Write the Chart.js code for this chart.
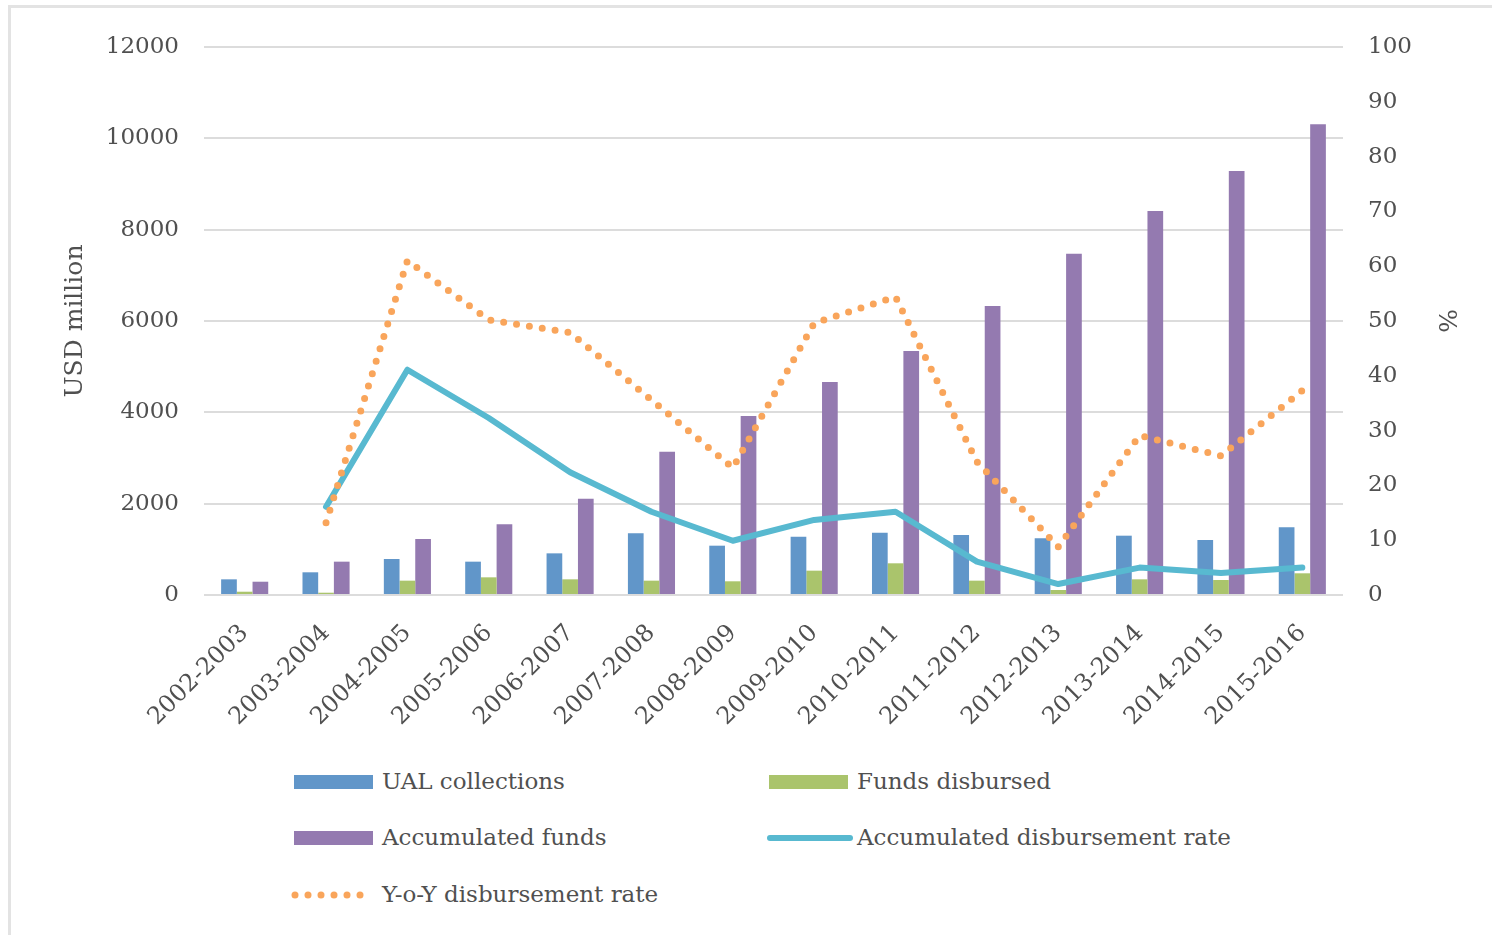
<!DOCTYPE html>
<html>
<head>
<meta charset="utf-8">
<title>UAL collections and disbursement</title>
<script src="https://cdn.jsdelivr.net/npm/chart.js@4.4.1/dist/chart.umd.min.js"></script>
<style>
  body {
    margin: 0;
    width: 1492px;
    height: 935px;
    background: #fff;
    overflow: hidden;
    position: relative;
    font-family: "DejaVu Serif", serif;
    color: #505050;
  }
  #frame {
    position: absolute;
    left: 8px;
    top: 5px;
    width: 1500px;
    height: 1000px;
    border-left: 3px solid #e3e3e3;
    border-top: 3px solid #e3e3e3;
  }
  #wrap {
    position: absolute;
    left: 0;
    top: 0;
    width: 1492px;
    height: 760px;
  }
  .legend-item {
    position: absolute;
    height: 30px;
    font-size: 23px;
    line-height: 30px;
    white-space: nowrap;
  }
  .legend-item .marker {
    position: absolute;
    top: 0;
  }
  .legend-item span {
    position: absolute;
    top: -1px;
  }
</style>
</head>
<body>
<div id="frame"></div>
<div id="wrap"><canvas id="chart"></canvas></div>
<div id="legend"></div>

<script>
// Fiscal years on the x axis
const categories = [
  '2002-2003', '2003-2004', '2004-2005', '2005-2006', '2006-2007',
  '2007-2008', '2008-2009', '2009-2010', '2010-2011', '2011-2012',
  '2012-2013', '2013-2014', '2014-2015', '2015-2016'
];

// USD million (left axis)
const ualCollections   = [343, 497, 788, 730, 912, 1350, 1080, 1277, 1365, 1314, 1241, 1299, 1204, 1482];
const fundsDisbursed   = [72, 50, 314, 387, 343, 314, 300, 533, 694, 314, 110, 343, 328, 475];
const accumulatedFunds = [291, 730, 1226, 1547, 2110, 3138, 3920, 4664, 5343, 6330, 7470, 8408, 9284, 10306];

// Percent (right axis); no rate for the first year
const accDisbursementRate = [null, 16.1, 41.1, 32.3, 22.4, 15.2, 9.9, 13.7, 15.2, 6.1, 2.0, 5.0, 4.0, 5.0];
const yoyDisbursementRate = [null, 13.2, 61.0, 50.2, 47.9, 35.6, 23.2, 49.6, 54.4, 24.3, 8.8, 29.1, 25.4, 37.3];

// Axis ranges
const usdMax = 12000;
const usdStep = 2000;
const pctMax = 100;
const pctStep = 10;

const COLORS = {
  ual: '#6196c9',
  disbursed: '#aac46c',
  accumulated: '#947ab0',
  accRate: '#58b9d0',
  yoyRate: '#f9a55b',
  text: '#505050',
  grid: '#dcdcdc'
};

const FONT = '"DejaVu Serif", serif';

const tickFont = { family: FONT, size: 23 };
const catFont = { family: FONT, size: 24 };
const titleFont = { family: FONT, size: 25 };

// plain integers, no thousands separator
const plainTick = v => String(v);

const chart = new Chart(document.getElementById('chart'), {
  type: 'bar',
  data: {
    labels: categories,
    datasets: [
      {
        type: 'line',
        label: 'Y-o-Y disbursement rate',
        data: yoyDisbursementRate,
        yAxisID: 'y2',
        borderColor: COLORS.yoyRate,
        borderWidth: 7,
        borderDash: [0, 13],
        borderCapStyle: 'round',
        pointRadius: 0,
        tension: 0,
        order: 0
      },
      {
        type: 'line',
        label: 'Accumulated disbursement rate',
        data: accDisbursementRate,
        yAxisID: 'y2',
        borderColor: COLORS.accRate,
        borderWidth: 6,
        borderJoinStyle: 'round',
        borderCapStyle: 'round',
        pointRadius: 0,
        tension: 0,
        order: 1
      },
      {
        label: 'UAL collections',
        data: ualCollections,
        backgroundColor: COLORS.ual,
        yAxisID: 'y',
        order: 2
      },
      {
        label: 'Funds disbursed',
        data: fundsDisbursed,
        backgroundColor: COLORS.disbursed,
        yAxisID: 'y',
        order: 2
      },
      {
        label: 'Accumulated funds',
        data: accumulatedFunds,
        backgroundColor: COLORS.accumulated,
        yAxisID: 'y',
        order: 2
      }
    ]
  },
  options: {
    responsive: true,
    maintainAspectRatio: false,
    animation: false,
    layout: { padding: { top: 47, left: 0, right: 0, bottom: 0 } },
    datasets: {
      bar: { categoryPercentage: 0.579, barPercentage: 1 }
    },
    plugins: {
      legend: { display: false },
      tooltip: { enabled: false }
    },
    scales: {
      x: {
        grid: { display: false },
        border: { display: false },
        ticks: {
          color: COLORS.text,
          font: catFont,
          maxRotation: 45,
          minRotation: 45,
          autoSkip: false,
          padding: 16
        },
        afterFit: s => { s.height = 165; }
      },
      y: {
        position: 'left',
        min: 0,
        max: usdMax,
        grid: { color: COLORS.grid, lineWidth: 2, drawTicks: false },
        border: { display: false },
        ticks: {
          stepSize: usdStep,
          color: COLORS.text,
          font: tickFont,
          padding: 25,
          callback: plainTick
        },
        title: {
          display: true,
          text: 'USD million',
          color: COLORS.text,
          font: titleFont,
          padding: { top: 60, bottom: 0 }
        },
        afterFit: s => { s.width = 204; }
      },
      y2: {
        position: 'right',
        min: 0,
        max: pctMax,
        grid: { display: false, drawTicks: false },
        border: { display: false },
        ticks: {
          stepSize: pctStep,
          color: COLORS.text,
          font: tickFont,
          padding: 25,
          callback: plainTick
        },
        title: {
          display: true,
          text: '%',
          color: COLORS.text,
          font: titleFont,
          padding: { top: 32, bottom: 0 }
        },
        afterFit: s => { s.width = 149; }
      }
    }
  }
});

// Two-column legend under the plot
const legendEntries = [
  { label: 'UAL collections', color: COLORS.ual, kind: 'box', left: 294, top: 767 },
  { label: 'Funds disbursed', color: COLORS.disbursed, kind: 'box', left: 769, top: 767 },
  { label: 'Accumulated funds', color: COLORS.accumulated, kind: 'box', left: 294, top: 823 },
  { label: 'Accumulated disbursement rate', color: COLORS.accRate, kind: 'line', left: 767, top: 823 },
  { label: 'Y-o-Y disbursement rate', color: COLORS.yoyRate, kind: 'dots', left: 290, top: 880 }
];

function markerSvg(entry) {
  if (entry.kind === 'box') {
    return `<svg class="marker" width="80" height="30"><rect x="0" y="8" width="79" height="14" fill="${entry.color}"/></svg>`;
  }
  if (entry.kind === 'line') {
    return `<svg class="marker" width="88" height="30"><line x1="3" y1="15" x2="83" y2="15" stroke="${entry.color}" stroke-width="6" stroke-linecap="round"/></svg>`;
  }
  let dots = '';
  for (let i = 0; i < 6; i++) {
    dots += `<circle cx="${5 + i * 13}" cy="15" r="3.5" fill="${entry.color}"/>`;
  }
  return `<svg class="marker" width="84" height="30">${dots}</svg>`;
}

const legend = document.getElementById('legend');
legendEntries.forEach(entry => {
  const item = document.createElement('div');
  item.className = 'legend-item';
  item.style.left = entry.left + 'px';
  item.style.top = entry.top + 'px';
  const textLeft = entry.kind === 'dots' ? 92 : (entry.kind === 'line' ? 90 : 88);
  item.innerHTML = markerSvg(entry) + `<span style="left:${textLeft}px">${entry.label}</span>`;
  legend.appendChild(item);
});
</script>
</body>
</html>
